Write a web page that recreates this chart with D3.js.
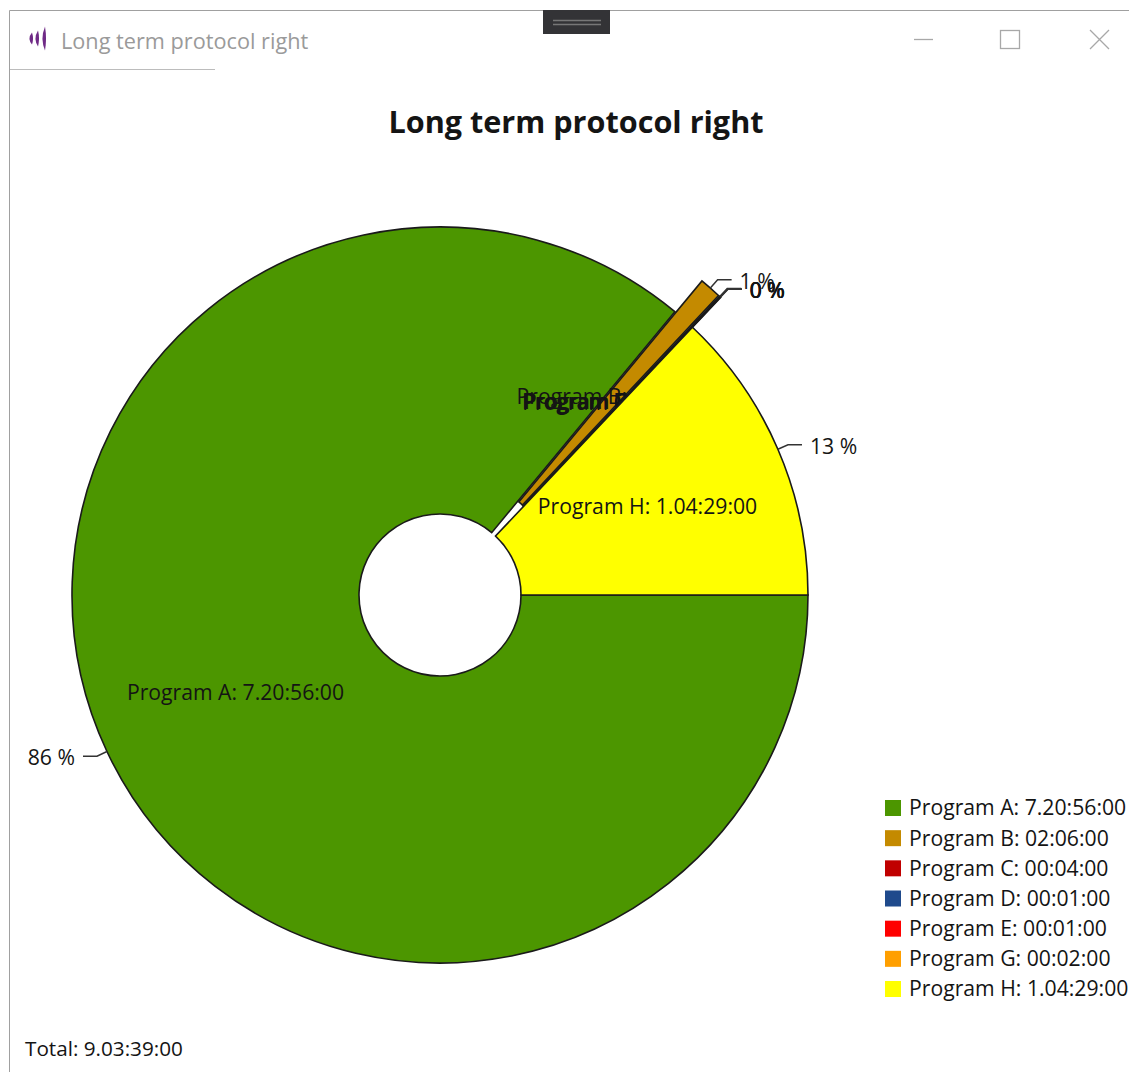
<!DOCTYPE html>
<html lang="en">
<head>
<meta charset="utf-8">
<title>Long term protocol right</title>
<script src="https://d3js.org/d3.v7.min.js"></script>
<style>
html, body { margin: 0; padding: 0; background: #fff; overflow: hidden; }
svg { display: block; }
text { font-family: "Open Sans", "Noto Sans", sans-serif; fill: #141414; }
.slice { stroke: #1a1a1a; stroke-width: 1.6; }
.leader { fill: none; stroke: #333; stroke-width: 1.5; }
.frame { stroke: #a0a0a0; stroke-width: 1; fill: none; }
.winbtn { stroke: #a8a8a8; stroke-width: 1.3; fill: none; }
</style>
</head>
<body>
<svg id="svgMain" width="1129" height="1072"></svg>
<script>
// values (minutes of program time)
var programs  = ["Program A", "Program B", "Program C", "Program D", "Program E", "Program G", "Program H"];
var minutes   = [11336, 126, 4, 1, 1, 2, 1709];
var durations = ["7.20:56:00", "02:06:00", "00:04:00", "00:01:00", "00:01:00", "00:02:00", "1.04:29:00"];
var colors    = ["#4c9600", "#c48a00", "#c00000", "#1f4a8c", "#ff0000", "#ff9f00", "#ffff00"];
var exploded  = [false, true, true, true, true, true, false];
var totalText = "Total: 9.03:39:00";
var chartTitle = "Long term protocol right";

var svg = d3.select("svg");

var cx = 440, cy = 595, outerR = 368, innerR = 81, labelR = 226, explode = 41;
var labelSize = 21.2;

var color = d3.scaleOrdinal().domain(programs).range(colors);
var total = d3.sum(minutes);

var rows = programs.map(function(p, i) {
  return { name: p, value: minutes[i], time: durations[i], out: exploded[i] };
});

// starts at 3 o'clock and runs clockwise
var pie = d3.pie().sort(null).value(function(d) { return d.value; })
  .startAngle(Math.PI / 2).endAngle(Math.PI / 2 + 2 * Math.PI);
var arc = d3.arc().innerRadius(innerR).outerRadius(outerR);

function polar(a, r) { return [r * Math.sin(a), -r * Math.cos(a)]; }
function midAngle(d) { return (d.startAngle + d.endAngle) / 2; }

var g = svg.append("g").attr("transform", "translate(" + cx + "," + cy + ")");

// each slice is painted with its labels, so later slices cover earlier labels
var slices = g.selectAll(".sliceGroup")
  .data(pie(rows))
  .enter().append("g")
    .attr("class", "sliceGroup")
    .attr("transform", function(d) {
      if (!d.data.out) return null;
      var p = polar(midAngle(d), explode);
      return "translate(" + p[0] + "," + p[1] + ")";
    });

slices.append("path")
  .attr("class", "slice")
  .attr("d", arc)
  .attr("fill", function(d) { return color(d.data.name); });

slices.append("text")
  .attr("text-anchor", "middle")
  .attr("dy", "0.42em")
  .attr("font-size", labelSize)
  .attr("transform", function(d) {
    var p = polar(midAngle(d), labelR);
    return "translate(" + p[0] + "," + p[1] + ")";
  })
  .text(function(d) { return d.data.name + ": " + d.data.time; });

// percentage labels with elbow leaders
slices.each(function(d) {
  var a = midAngle(d), dir = Math.sin(a) >= 0 ? 1 : -1;
  var p0 = polar(a, outerR), p1 = polar(a, outerR + 11);
  var p2 = [p1[0] + dir * 14, p1[1]];
  d3.select(this).append("path")
    .attr("class", "leader")
    .attr("d", d3.line()([p0, p1, p2]));
  d3.select(this).append("text")
    .attr("x", p2[0] + dir * 8)
    .attr("y", p2[1])
    .attr("dy", "0.42em")
    .attr("font-size", labelSize)
    .attr("text-anchor", dir > 0 ? "start" : "end")
    .text(Math.round(d.value / total * 100) + " %");
});

// chart title
svg.append("text")
  .attr("x", 576).attr("y", 133)
  .attr("text-anchor", "middle")
  .attr("font-size", 30.6)
  .attr("font-weight", "bold")
  .text(chartTitle);

// legend
var legendY = d3.scalePoint().domain(programs).range([808, 989]);
var legend = svg.selectAll(".legendRow")
  .data(rows)
  .enter().append("g")
    .attr("class", "legendRow")
    .attr("transform", function(d) { return "translate(885," + legendY(d.name) + ")"; });
legend.append("rect")
  .attr("y", -8).attr("width", 16).attr("height", 16)
  .attr("fill", function(d) { return color(d.name); });
legend.append("text")
  .attr("x", 24).attr("dy", "0.35em")
  .attr("font-size", labelSize)
  .text(function(d) { return d.name + ": " + d.time; });

svg.append("text")
  .attr("x", 25).attr("y", 1049).attr("dy", "0.35em")
  .attr("font-size", 20.7)
  .text(totalText);

// window chrome
svg.append("path").attr("class", "frame").attr("d", "M9.5,1072V10.5H1129");
svg.append("path").attr("class", "frame").attr("stroke-opacity", 0.7).attr("d", "M9.5,69.5H215");
svg.append("text")
  .attr("x", 61).attr("y", 41).attr("dy", "0.35em")
  .attr("font-size", 21.7)
  .style("fill", "#9a9a9a")
  .text(chartTitle);

// window icon, three pointed bars growing to the right
var icon = svg.append("g").attr("fill", "#6f2a86");
[[32, 6], [38, 8], [45, 12]].forEach(function(b) {
  icon.append("path").attr("d",
    "M" + b[0] + "," + (38.5 - b[1]) +
    "Q" + (b[0] - 5) + ",38.5 " + b[0] + "," + (38.5 + b[1]) +
    "Q" + (b[0] + 2) + ",38.5 " + b[0] + "," + (38.5 - b[1]) + "Z");
});

svg.append("rect").attr("x", 543).attr("y", 10).attr("width", 67).attr("height", 24).attr("fill", "#333336");
svg.append("path").attr("d", "M553,20.5H601M553,24.5H601").attr("stroke", "#777").attr("stroke-width", 1.5);

svg.append("path").attr("class", "winbtn").attr("d", "M914,39.5H933");
svg.append("rect").attr("class", "winbtn").attr("x", 1000.5).attr("y", 30.5).attr("width", 19).attr("height", 18);
svg.append("path").attr("class", "winbtn").attr("d", "M1090,30L1109,49M1109,30L1090,49");
</script>
</body>
</html>
